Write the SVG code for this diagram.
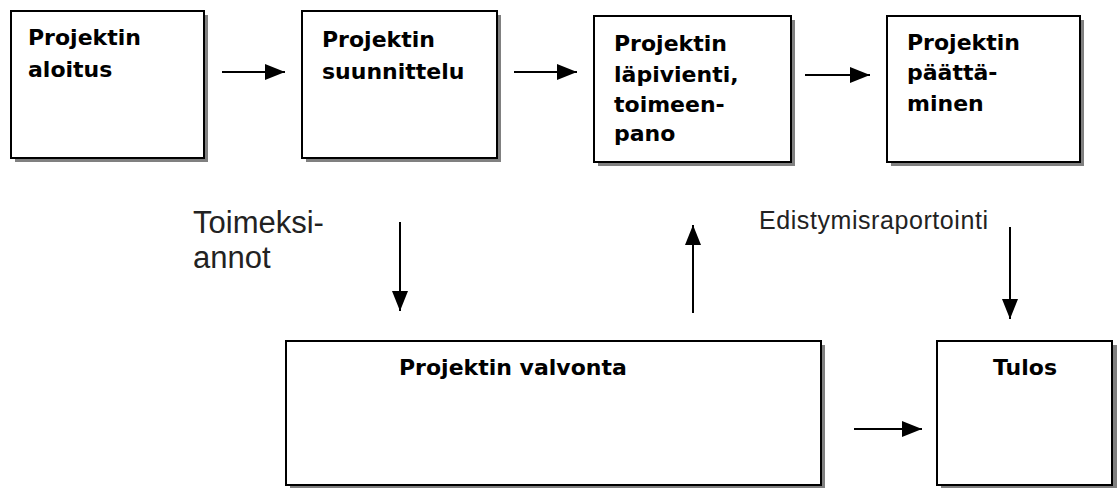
<svg xmlns="http://www.w3.org/2000/svg" width="1117" height="488" viewBox="0 0 1117 488">
<style>
.box{fill:#fff;stroke:#000;stroke-width:2}
.shadow{fill:#808080}
.t{font-family:"DejaVu Sans",sans-serif;font-weight:bold;font-size:22px;fill:#000}
.lbl{font-family:"Liberation Sans",Arial,sans-serif;fill:#222}
.conn{stroke:#000;stroke-width:2;fill:none;marker-end:url(#ah)}
</style>
<defs>
<marker id="ah" viewBox="0 0 20 16" refX="20" refY="8" markerWidth="20" markerHeight="16" markerUnits="userSpaceOnUse" orient="auto">
<path d="M0,0 L20,8 L0,16 Z" fill="#000"/>
</marker>
</defs>
<rect width="1117" height="488" fill="#fff"/>
<g id="n1">
<rect class="shadow" x="15" y="15" width="193" height="147"/>
<rect class="box" x="11" y="11" width="193" height="147"/>
<text class="t" x="28" y="45">Projektin</text>
<text class="t" x="28" y="77">aloitus</text>
</g>
<g id="n2">
<rect class="shadow" x="306" y="15" width="195" height="147"/>
<rect class="box" x="302" y="11" width="195" height="147"/>
<text class="t" x="322" y="47">Projektin</text>
<text class="t" x="322" y="79">suunnittelu</text>
</g>
<g id="n3">
<rect class="shadow" x="598" y="20" width="197" height="146"/>
<rect class="box" x="594" y="16" width="197" height="146"/>
<text class="t" x="614" y="51">Projektin</text>
<text class="t" x="614" y="82">läpivienti,</text>
<text class="t" x="614" y="112">toimeen-</text>
<text class="t" x="614" y="141">pano</text>
</g>
<g id="n4">
<rect class="shadow" x="891" y="20" width="193" height="146"/>
<rect class="box" x="887" y="16" width="193" height="146"/>
<text class="t" x="907" y="50">Projektin</text>
<text class="t" x="907" y="80">päättä-</text>
<text class="t" x="907" y="111">minen</text>
</g>
<g id="n5">
<rect class="shadow" x="290" y="345" width="535" height="144"/>
<rect class="box" x="286" y="341" width="535" height="144"/>
<text class="t" x="399" y="375">Projektin valvonta</text>
</g>
<g id="n6">
<rect class="shadow" x="941" y="345" width="176" height="144"/>
<rect class="box" x="937" y="341" width="175" height="144"/>
<text class="t" x="1025" y="375" text-anchor="middle">Tulos</text>
</g>
<g id="labels">
<text class="lbl" font-size="31" x="193" y="233">Toimeksi-</text>
<text class="lbl" font-size="31" x="193" y="268">annot</text>
<text class="lbl" font-size="25" x="759" y="229" textLength="229" lengthAdjust="spacing">Edistymisraportointi</text>
</g>
<g id="connectors">
<line class="conn" x1="222" y1="72" x2="285" y2="72"/>
<line class="conn" x1="514" y1="72" x2="577" y2="72"/>
<line class="conn" x1="805" y1="75" x2="870" y2="75"/>
<line class="conn" x1="400" y1="222" x2="400" y2="311"/>
<line class="conn" x1="693" y1="313" x2="693" y2="225"/>
<line class="conn" x1="1010" y1="227" x2="1010" y2="319"/>
<line class="conn" x1="854" y1="429" x2="922" y2="429"/>
</g>
</svg>
